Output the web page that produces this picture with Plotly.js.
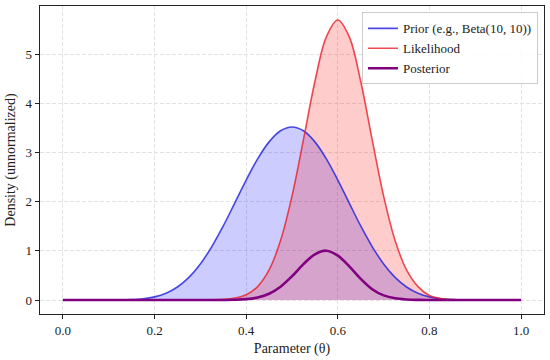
<!DOCTYPE html>
<html>
<head>
<meta charset="utf-8">
<script src="https://cdn.plot.ly/plotly-3.0.1.min.js"></script>
<style>html,body{margin:0;padding:0;background:#fff}#chart{width:550px;height:360px}</style>
</head>
<body>
<div id="chart"></div>
<script>
const theta = [0,0.025,0.05,0.075,0.1,0.125,0.15,0.175,0.2,0.225,0.25,0.275,0.3,0.325,0.35,0.375,0.4,0.425,0.45,0.475,0.5,0.525,0.55,0.575,0.6,0.625,0.65,0.675,0.7,0.725,0.75,0.775,0.8,0.825,0.85,0.875,0.9,0.925,0.95,0.975,1];
const prior = [0,0,0,0.00003,0.0004,0.002,0.008,0.025,0.064,0.138,0.265,0.460,0.734,1.087,1.507,1.972,2.440,2.872,3.219,3.445,3.522,3.445,3.219,2.872,2.440,1.972,1.507,1.087,0.734,0.460,0.265,0.138,0.064,0.025,0.008,0.002,0.0004,0.00003,0,0,0];
const likelihood = [0,0,0,0,0,0,0,0,0,0,0,0.0002,0.001,0.003,0.012,0.038,0.105,0.273,0.612,1.210,2.114,3.263,4.447,5.357,5.70,5.357,4.447,3.263,2.114,1.210,0.612,0.273,0.09,0.03,0.009,0.002,0.0005,0,0,0,0];
const posterior = [0,0,0,0,0,0,0,0,0,0,0,0,0.00004,0.0002,0.0011,0.0048,0.017,0.051,0.128,0.271,0.483,0.730,0.930,1.004,0.903,0.684,0.43,0.22,0.094,0.034,0.010,0.0024,0.0004,0,0,0,0,0,0,0,0];
const names = ["Prior (e.g., Beta(10, 10))", "Likelihood", "Posterior"];

const font = "Liberation Serif, Times New Roman, serif";
const traces = [
  {x: theta, y: prior, mode: "lines", fill: "tozeroy", fillcolor: "rgba(0,0,255,0.2)", line: {width: 0, shape: "spline"}, showlegend: false, hoverinfo: "skip"},
  {x: theta, y: likelihood, mode: "lines", fill: "tozeroy", fillcolor: "rgba(255,0,0,0.2)", line: {width: 0, shape: "spline"}, showlegend: false, hoverinfo: "skip"},
  {x: theta, y: prior, mode: "lines", name: names[0], line: {color: "rgba(30,30,220,0.8)", width: 1.6, shape: "spline"}},
  {x: theta, y: likelihood, mode: "lines", name: names[1], line: {color: "rgba(235,30,40,0.8)", width: 1.6, shape: "spline"}},
  {x: theta, y: posterior, mode: "lines", name: names[2], line: {color: "#800080", width: 2.6, shape: "spline"}}
];

const axisBase = {
  showline: true, linecolor: "#222", linewidth: 1.3, mirror: true,
  ticks: "outside", ticklen: 4, tickcolor: "#222", tickwidth: 1,
  showgrid: true, gridcolor: "#dcdcdc", griddash: "4px,2px", gridwidth: 0.8,
  zeroline: false, tickfont: {family: font, size: 13, color: "#222"}
};

const layout = {
  width: 550, height: 360,
  margin: {l: 40, r: 6, t: 6, b: 46},
  paper_bgcolor: "#fff", plot_bgcolor: "#fff",
  font: {family: font, color: "#222"},
  xaxis: Object.assign({}, axisBase, {range: [-0.05, 1.05], tickmode: "array", tickvals: [0,0.2,0.4,0.6,0.8,1.0], ticktext: ["0.0","0.2","0.4","0.6","0.8","1.0"], title: {text: "Parameter (θ)", font: {family: font, size: 14}, standoff: 6}}),
  yaxis: Object.assign({}, axisBase, {range: [-0.285, 5.985], dtick: 1, tick0: 0, title: {text: "Density (unnormalized)", font: {family: font, size: 14}, standoff: 6}}),
  legend: {x: 0.988, y: 0.979, xanchor: "right", yanchor: "top", bgcolor: "rgba(255,255,255,0.85)", bordercolor: "#cccccc", borderwidth: 1, font: {family: font, size: 13, color: "#222"}, tracegroupgap: 0},
  showlegend: true
};

Plotly.newPlot("chart", traces, layout, {displayModeBar: false, staticPlot: true});
</script>
</body>
</html>
